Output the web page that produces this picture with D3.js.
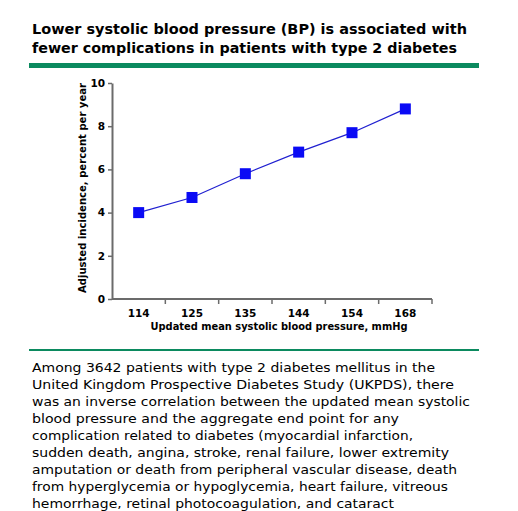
<!DOCTYPE html>
<html>
<head>
<meta charset="utf-8">
<script src="https://cdn.jsdelivr.net/npm/d3@7"></script>
<style>
  html, body { margin: 0; padding: 0; background: #ffffff; }
  svg { display: block; }
</style>
</head>
<body>
<svg id="chart" width="518" height="511"></svg>
<script>
const categories = ["114", "125", "135", "144", "154", "168"];
const values = [4.0, 4.7, 5.8, 6.8, 7.7, 8.8];
const yTicks = [0, 2, 4, 6, 8, 10];
const titleLines = [
  "Lower systolic blood pressure (BP) is associated with",
  "fewer complications in patients with type 2 diabetes"
];
const titleWidths = [435, 425];
const xTitle = "Updated mean systolic blood pressure, mmHg";
const yTitle = "Adjusted incidence, percent per year";
const captionLines = [
  "Among 3642 patients with type 2 diabetes mellitus in the",
  "United Kingdom Prospective Diabetes Study (UKPDS), there",
  "was an inverse correlation between the updated mean systolic",
  "blood pressure and the aggregate end point for any",
  "complication related to diabetes (myocardial infarction,",
  "sudden death, angina, stroke, renal failure, lower extremity",
  "amputation or death from peripheral vascular disease, death",
  "from hyperglycemia or hypoglycemia, heart failure, vitreous",
  "hemorrhage, retinal photocoagulation, and cataract"
];
const captionWidths = [403, 422, 438, 367, 381, 417, 425, 416, 362];

const svg = d3.select("#chart");
const green = "#0b8a5f";
const axisGrey = "#6b6b6b";
const font = "'DejaVu Sans', Verdana, sans-serif";

// Title
svg.append("g").selectAll("text").data(titleLines).join("text")
  .attr("x", 32).attr("y", (d, i) => 34 + i * 19)
  .attr("font-family", font).attr("font-weight", "bold")
  .attr("font-size", 14.5).attr("fill", "#000")
  .attr("textLength", (d, i) => titleWidths[i]).attr("lengthAdjust", "spacingAndGlyphs")
  .text(d => d);

svg.append("rect").attr("x", 29).attr("y", 63).attr("width", 450).attr("height", 5).attr("fill", green);
svg.append("rect").attr("x", 29).attr("y", 349).attr("width", 450).attr("height", 2).attr("fill", green);

// Scales
const x = d3.scaleBand().domain(categories).range([112, 432]);
const y = d3.scaleLinear().domain([0, 10]).range([299, 83]);

// Y axis
const yAxis = svg.append("g").attr("transform", "translate(112,0)")
  .call(d3.axisLeft(y).tickValues(yTicks).tickSize(4).tickPadding(3).tickSizeOuter(0));
yAxis.select(".domain").attr("stroke", axisGrey).attr("stroke-width", 2);
yAxis.selectAll(".tick line").attr("stroke", axisGrey).attr("stroke-width", 1.5);
yAxis.selectAll(".tick text").attr("font-family", font).attr("font-weight", "bold")
  .attr("font-size", 10.5).attr("fill", "#000");

// X axis: line + boundary ticks
const xAxisG = svg.append("g");
xAxisG.append("line").attr("x1", x.range()[0]).attr("x2", x.range()[1])
  .attr("y1", y(0)).attr("y2", y(0)).attr("stroke", axisGrey).attr("stroke-width", 2);
const boundaries = categories.map(c => x(c) + x.bandwidth());
xAxisG.selectAll("line.tk").data(boundaries).join("line").attr("class", "tk")
  .attr("x1", d => d).attr("x2", d => d).attr("y1", y(0)).attr("y2", y(0) + 5)
  .attr("stroke", axisGrey).attr("stroke-width", 1.5);
xAxisG.selectAll("text").data(categories).join("text")
  .attr("x", d => x(d) + x.bandwidth() / 2).attr("y", 317)
  .attr("text-anchor", "middle").attr("font-family", font).attr("font-weight", "bold")
  .attr("font-size", 10.5).attr("fill", "#000").text(d => d);

// Axis titles
svg.append("text").attr("x", 279).attr("y", 330).attr("text-anchor", "middle")
  .attr("font-family", font).attr("font-weight", "bold").attr("font-size", 10)
  .attr("fill", "#000").attr("textLength", 257).attr("lengthAdjust", "spacingAndGlyphs")
  .text(xTitle);
svg.append("text").attr("transform", "translate(86,188) rotate(-90)").attr("text-anchor", "middle")
  .attr("font-family", font).attr("font-weight", "bold").attr("font-size", 10)
  .attr("fill", "#000").attr("textLength", 210).attr("lengthAdjust", "spacingAndGlyphs")
  .text(yTitle);

// Line + markers
const pts = categories.map((c, i) => [x(c) + x.bandwidth() / 2, y(values[i])]);
svg.append("path").attr("d", d3.line()(pts)).attr("fill", "none")
  .attr("stroke", "#2020d0").attr("stroke-width", 1.2);
const ms = 11;
svg.selectAll("rect.m").data(pts).join("rect").attr("class", "m")
  .attr("x", d => d[0] - ms / 2).attr("y", d => d[1] - ms / 2)
  .attr("width", ms).attr("height", ms).attr("fill", "#0a0af5");

// Caption
svg.append("g").selectAll("text").data(captionLines).join("text")
  .attr("x", 32).attr("y", (d, i) => 372 + i * 17)
  .attr("font-family", font).attr("font-size", 13).attr("fill", "#000")
  .attr("textLength", (d, i) => captionWidths[i]).attr("lengthAdjust", "spacingAndGlyphs")
  .text(d => d);
</script>
</body>
</html>
